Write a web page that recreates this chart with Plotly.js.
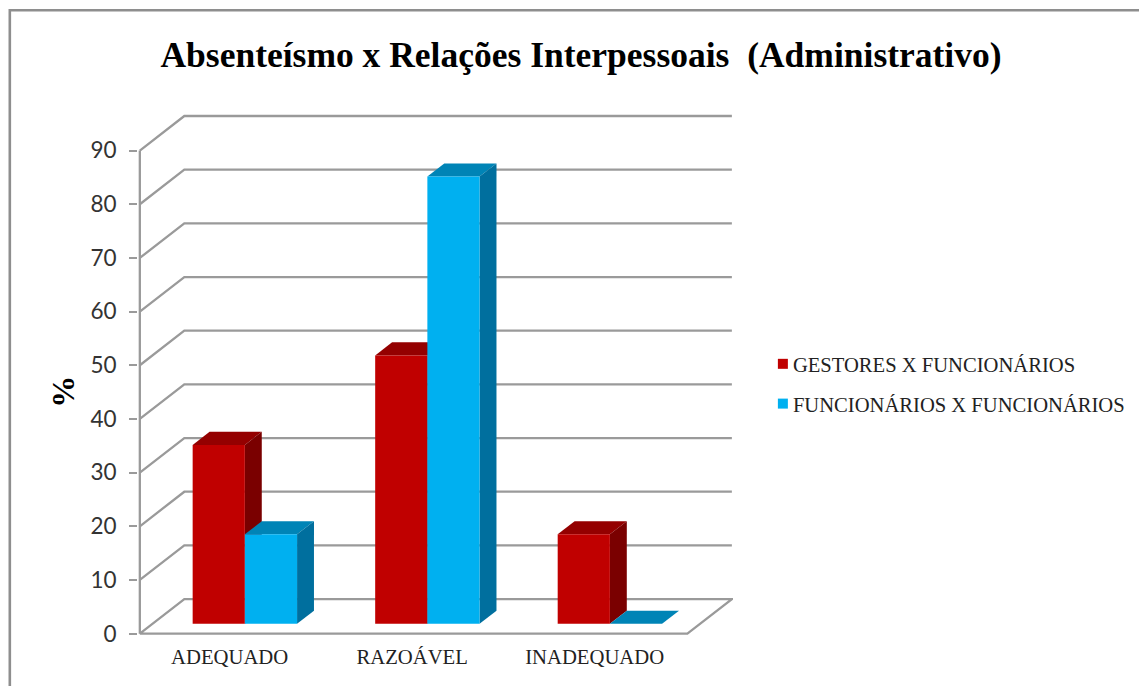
<!DOCTYPE html>
<html>
<head>
<meta charset="utf-8">
<script src="https://cdn.plot.ly/plotly-3.0.1.min.js"></script>
<style>html,body{margin:0;padding:0;background:#fff;overflow:hidden}</style>
</head>
<body>
<div id="chart" style="width:1139px;height:686px"></div>
<script>
// Chart values
const categories = ['ADEQUADO', 'RAZOÁVEL', 'INADEQUADO'];
const gestores = [33.33, 50, 16.67];
const funcionarios = [16.67, 83.33, 0];
const valueTicks = [0, 10, 20, 30, 40, 50, 60, 70, 80, 90];

// Oblique projection of the 3D box, in axis units
const DEPTH_X = 0.2438, DEPTH_Y = 6.44;
const BAR_WIDTH = 0.286, BAR_NEAR = 0.285, BAR_DEPTH = 0.38, BAR_NUDGE = 0.006;

// Plot box on the page
const PX_PER_CAT = 182.5, PX_PER_UNIT = 5.36;
const xRange = [-0.01, 3.25], yRange = [-1, 97];
const plotW = (xRange[1] - xRange[0]) * PX_PER_CAT;
const plotH = (yRange[1] - yRange[0]) * PX_PER_UNIT;
const left = 138.175, top_ = 113.38;

const pathOf = (pts, close) =>
  'M' + pts.map(p => p[0] + ',' + p[1]).join('L') + (close ? 'Z' : '');
const line = pts => ({
  type: 'path', xref: 'x', yref: 'y', layer: 'below', path: pathOf(pts, false),
  line: { color: '#9a9a9a', width: 2.3 }
});
const face = (pts, color) => ({
  type: 'path', xref: 'x', yref: 'y', layer: 'below', path: pathOf(pts, true),
  fillcolor: color, line: { width: 0 }
});

const n = categories.length;
const shapes = [];

// Back wall grid with its slanted return to the value axis
valueTicks.forEach(v => {
  if (v === 0) return;
  shapes.push(line([[0, v], [DEPTH_X, v + DEPTH_Y], [n + DEPTH_X, v + DEPTH_Y]]));
});
// Floor outline and value axis
shapes.push(line([[0, 0], [DEPTH_X, DEPTH_Y], [n + DEPTH_X, DEPTH_Y], [n, 0], [0, 0]]));
shapes.push(line([[0, 0], [0, 90]]));

// Side and top faces of one bar; the front face is the bar trace itself
function barFaces(cx, value, sideColor, topColor) {
  const lift = BAR_NEAR * DEPTH_Y;
  const xl = cx - BAR_WIDTH / 2 + BAR_NEAR * DEPTH_X + BAR_NUDGE;
  const xr = xl + BAR_WIDTH;
  const ddx = BAR_DEPTH * DEPTH_X, ddy = BAR_DEPTH * DEPTH_Y;
  const yt = value + lift;
  shapes.push(face([[xl, yt], [xl + ddx, yt + ddy], [xr + ddx, yt + ddy], [xr, yt]], topColor));
  if (value > 0) {
    shapes.push(face([[xr, lift], [xr + ddx, lift + ddy], [xr + ddx, yt + ddy], [xr, yt]], sideColor));
  }
}

const centers = categories.map((_, i) => i + 0.5);
const labelPositions = centers.map(c => c - 0.008);
const shift = BAR_WIDTH / 2;
const frontX = (sign) => centers.map(c => c + sign * shift + BAR_NEAR * DEPTH_X + BAR_NUDGE);

centers.forEach((c, i) => barFaces(c - shift, gestores[i], '#7a0000', '#940000'));
centers.forEach((c, i) => barFaces(c + shift, funcionarios[i], '#006f9e', '#0084b6'));

// Frame around the whole chart, running off the right and bottom edges
const fx = px => (px - left) / plotW;
const fy = py => 1 - (py - top_) / plotH;
shapes.push({
  type: 'path', xref: 'paper', yref: 'paper', layer: 'above',
  path: pathOf([[fx(10), fy(700)], [fx(10), fy(10.7)], [fx(1150), fy(10.7)]], false),
  line: { color: '#8e8e8e', width: 2.6 }
});

const lift = BAR_NEAR * DEPTH_Y;
const traces = [
  {
    type: 'bar', name: 'GESTORES X FUNCIONÁRIOS', x: frontX(-1), y: gestores,
    base: gestores.map(() => lift), width: BAR_WIDTH,
    marker: { color: '#c00000', line: { width: 0 } }, legendgroup: 'a'
  },
  {
    type: 'bar', name: 'FUNCIONÁRIOS X FUNCIONÁRIOS', x: frontX(1), y: funcionarios,
    base: funcionarios.map(() => lift), width: BAR_WIDTH,
    marker: { color: '#00b0f0', line: { width: 0 } }, legendgroup: 'b'
  }
];

const SERIF = '"Liberation Serif", serif';
const layout = {
  width: 1139, height: 686,
  margin: { l: left, t: top_, r: 1139 - left - plotW, b: 686 - top_ - plotH, pad: 0, autoexpand: false },
  paper_bgcolor: '#fff', plot_bgcolor: 'rgba(0,0,0,0)',
  barmode: 'overlay',
  title: {
    text: 'Absenteísmo x Relações Interpessoais \u00a0(Administrativo)',
    x: 581 / 1139, xanchor: 'center', y: 1 - 55 / 686, yanchor: 'middle',
    font: { family: SERIF, size: 35.5, color: '#000', weight: 'bold' }
  },
  xaxis: {
    range: xRange, showgrid: false, zeroline: false, showline: false,
    tickmode: 'array', tickvals: labelPositions, ticktext: categories, ticks: '',
    ticklabelstandoff: 3,
    tickfont: { family: SERIF, size: 20.7, color: '#222' }
  },
  yaxis: {
    range: yRange, showgrid: false, zeroline: false, showline: false,
    tickmode: 'array', tickvals: valueTicks, ticks: 'outside', ticklen: 8,
    tickwidth: 2, tickcolor: '#9a9a9a', ticklabelstandoff: 8,
    tickfont: { family: 'Lato, sans-serif', size: 22.5, color: '#333' }
  },
  legend: {
    x: fx(753), xanchor: 'left', y: fy(344), yanchor: 'top',
    bgcolor: 'rgba(0,0,0,0)', tracegroupgap: 10, traceorder: 'grouped',
    font: { family: SERIF, size: 20.6, color: '#222' }
  },
  annotations: [{
    text: '<b>%</b>', textangle: -90, showarrow: false,
    xref: 'paper', yref: 'paper', x: fx(63), y: fy(392), xanchor: 'center', yanchor: 'middle',
    font: { family: SERIF, size: 32, color: '#000' }
  }],
  shapes: shapes,
  hovermode: false
};

Plotly.newPlot('chart', traces, layout, { displayModeBar: false, staticPlot: true }).then(gd => {
  // Smaller legend keys, set closer to their labels
  gd.querySelectorAll('.legend .legendsymbols').forEach(g => g.setAttribute('transform', 'translate(10,0)'));
  gd.querySelectorAll('.legend .legendpoints path').forEach(p => p.setAttribute('d', 'M5,5H-5V-5H5Z'));
});
</script>
</body>
</html>
